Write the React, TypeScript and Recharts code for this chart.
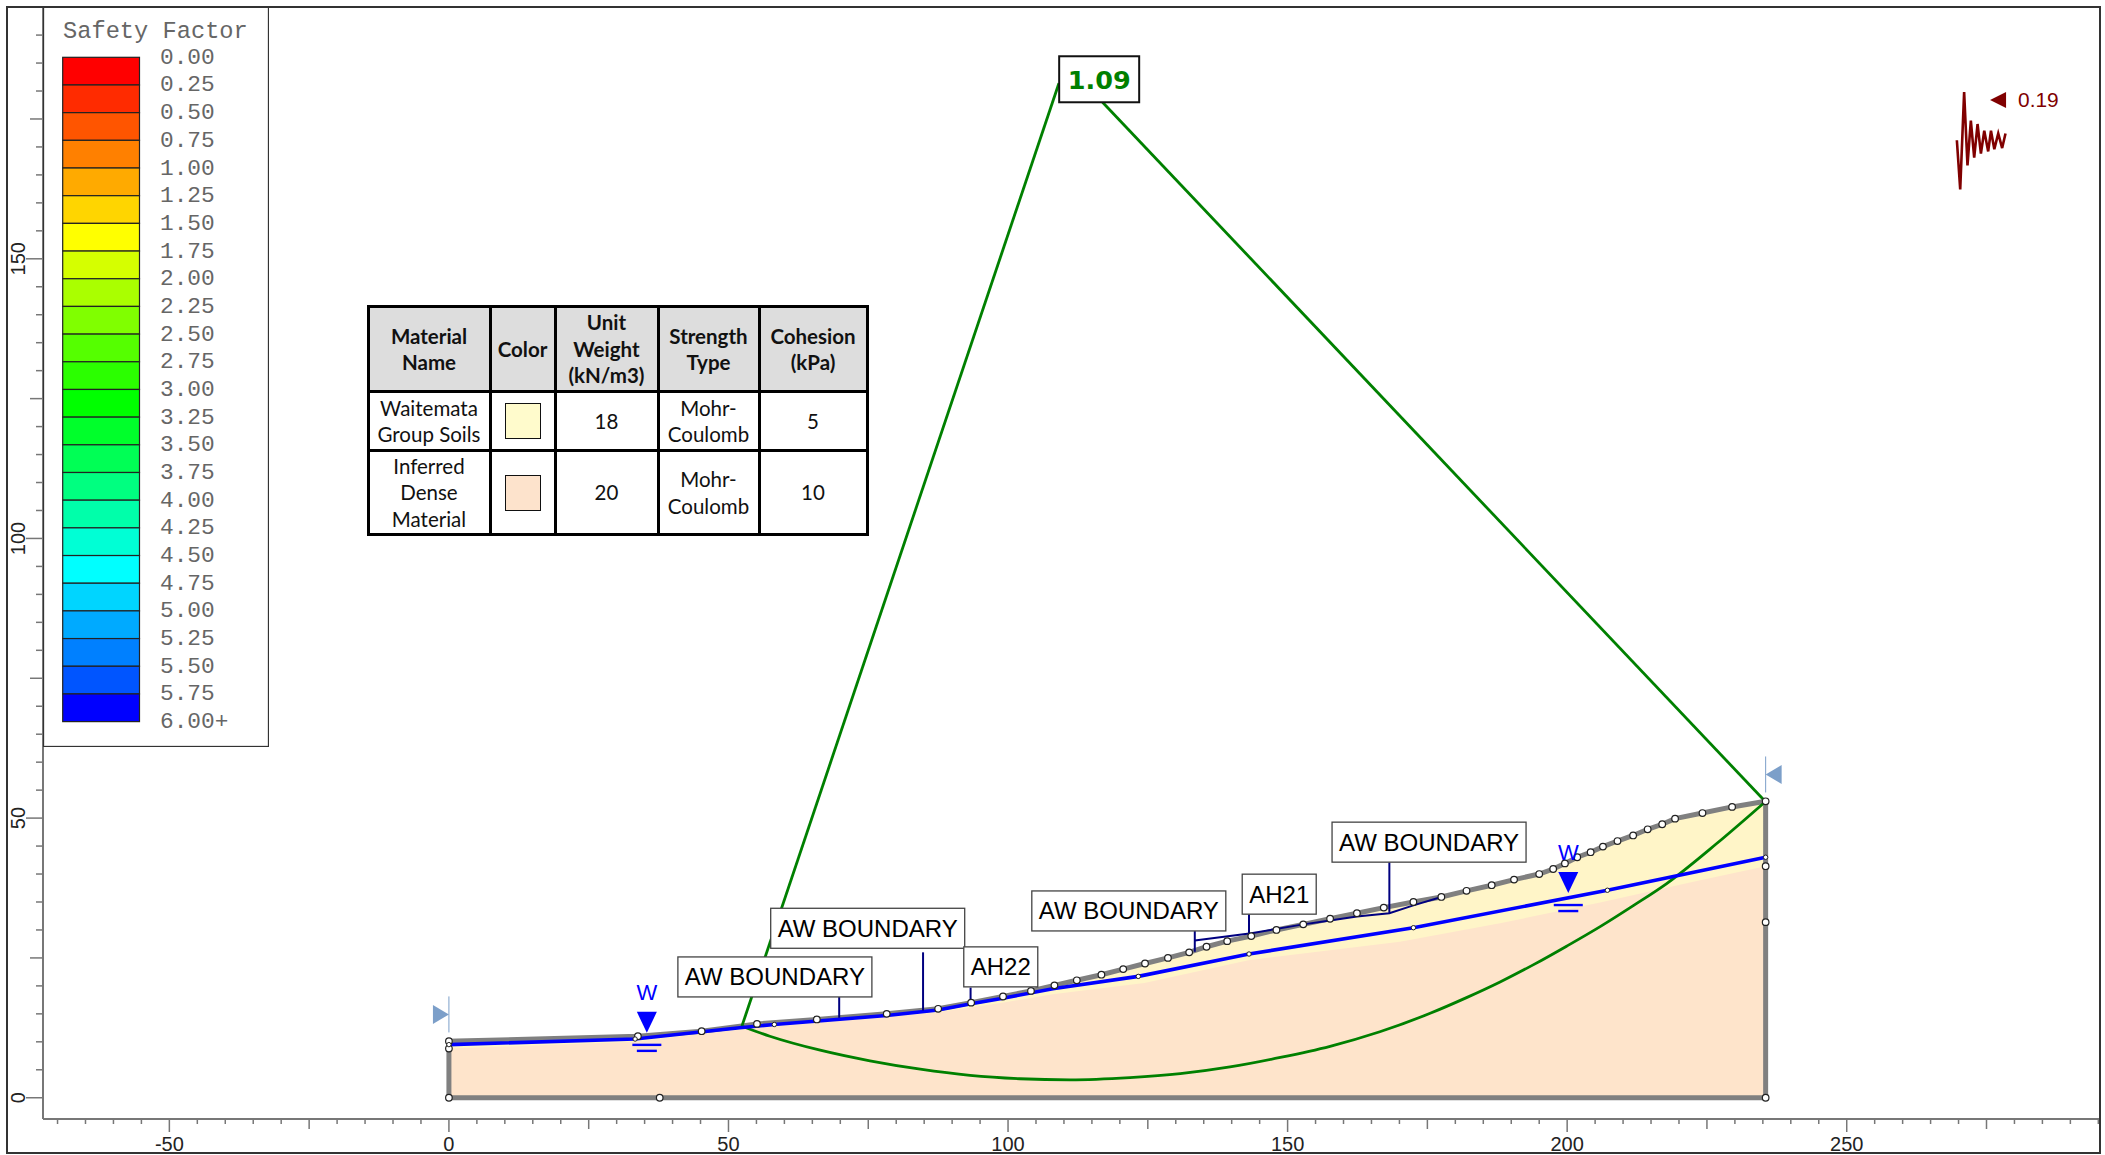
import { Area, ComposedChart, Line, ReferenceDot, XAxis, YAxis } from "recharts"

const xDomain = [-72.6, 295.3]
const yDomain = [-3.8, 195.2]

const xTicks = [
  -70, -65, -60, -55, -50, -45, -40, -35, -30, -25, -20, -15, -10, -5, 0, 5, 10, 15, 20, 25, 30, 35, 40, 45, 50, 55, 60,
  65, 70, 75, 80, 85, 90, 95, 100, 105, 110, 115, 120, 125, 130, 135, 140, 145, 150, 155, 160, 165, 170, 175, 180, 185,
  190, 195, 200, 205, 210, 215, 220, 225, 230, 235, 240, 245, 250, 255, 260, 265, 270, 275, 280, 285, 290, 295,
]
const yTicks = [
  0, 5, 10, 15, 20, 25, 30, 35, 40, 45, 50, 55, 60, 65, 70, 75, 80, 85, 90, 95, 100, 105, 110, 115, 120, 125, 130, 135,
  140, 145, 150, 155, 160, 165, 170, 175, 180, 185, 190, 195,
]

// slope surface vertices, left to right
const surfaceX = [
  0, 33.8, 45.2, 55.1, 65.8, 78.3, 87.5, 93.4, 99.1, 104.1, 108.3, 112.3, 116.7, 120.6, 124.5, 128.6, 132.4, 135.5,
  139.2, 143.5, 148, 152.8, 157.6, 162.4, 167.2, 172.5, 177.5, 182, 186.5, 190.5, 195, 197.5, 199.6, 201.8, 204.2,
  206.4, 209, 211.8, 214.4, 217, 219.3, 224.2, 229.5, 235.5,
]
const surfaceY = [
  10.1, 11, 11.9, 13.2, 14, 15, 15.9, 17, 18.1, 19.1, 20.1, 21, 22, 23, 24, 25, 26, 27, 28, 28.9, 30, 31, 32, 33, 34,
  35, 35.9, 37, 38, 39, 40, 40.9, 41.9, 43, 43.9, 44.9, 45.9, 46.9, 48, 48.9, 49.9, 50.9, 52, 53,
]

// boundary between the two materials
const interfaceX = [0, 33.3, 50, 87.5, 99, 108, 124.4, 143, 170.1, 188, 205.9, 223.8, 235.5]
const interfaceY = [8.8, 10, 12, 15.3, 17, 18.5, 20.5, 24.6, 27.9, 31.2, 34.9, 38.9, 41.4]

const waterX = [0, 33.3, 52, 58.2, 78.3, 87.5, 93.4, 99.1, 108, 123.3, 143.1, 172.5, 207.2, 235.5]
const waterY = [9.5, 10.5, 12.5, 13.1, 14.7, 15.7, 16.8, 17.8, 19.5, 21.7, 25.7, 30.4, 37.1, 43]
const waterDotX = [0, 33.3, 58.2, 123.3, 143.1, 172.5, 207.2, 235.5]
const waterDotY = [9.5, 10.5, 13.1, 21.7, 25.7, 30.4, 37.1, 43]

const extraDotX = [0, 0, 37.7, 235.5, 235.5, 235.5]
const extraDotY = [8.8, 0, 0, 41.4, 31.4, 0]

const slipX = [
  52.4, 57.4, 66.4, 75.3, 84.3, 93.2, 102.1, 111.1, 121.8, 130.8, 139.7, 148.7, 157.6, 166.5, 175.5, 182, 188, 194,
  199.9, 205.9, 211.9, 217.8, 226.8, 235.4,
]
const slipY = [
  12.8, 11, 8.5, 6.6, 5.1, 4, 3.4, 3.2, 3.6, 4.3, 5.5, 7.2, 9.2, 11.8, 15.1, 17.9, 20.7, 23.8, 27.1, 30.6, 34.4, 38.3,
  45.5, 52.9,
]
const slipLeftX = [52.4, 109.1]
const slipLeftY = [12.8, 181.4]
const slipRightX = [116.9, 235.4]
const slipRightY = [178, 53]

const awLineX = [133.4, 143.5, 152.8, 157.6, 162.4, 168.2, 172.5, 177.5]
const awLineY = [28.1, 29.4, 31, 31.7, 32.4, 33, 34.4, 35.9]

const seismicX = [269.7, 270.3, 271, 271.6, 272.2, 272.8, 273.4, 274, 274.6, 275.3, 275.8, 276.4, 277.1, 277.8, 278.4]
const seismicY = [171.2, 162.4, 179.8, 166.7, 174.7, 168.1, 174.1, 168.8, 172.9, 169.2, 172.9, 169.6, 172.4, 169.8, 172.4]

const annotationText = ["AW BOUNDARY", "AW BOUNDARY", "AH22", "AW BOUNDARY", "AH21", "AW BOUNDARY"]
const annotationX = [58.3, 74.9, 98.7, 121.6, 148.5, 175.3]
const annotationY = [21.6, 30.3, 23.4, 33.4, 36.4, 45.7]
const leaderX = [69.8, 84.8, 93.3, 133.4, 143.1, 168.2]
const leaderTop = [18, 26, 19.7, 29.8, 32.8, 42.1]
const leaderBottom = [14.3, 15.6, 16.5, 26.1, 28.5, 33]

const waterMarkerX = [35.4, 200.2]
const waterMarkerY = [11.6, 36.6]

const legendLabels = [
  "0.00", "0.25", "0.50", "0.75", "1.00", "1.25", "1.50", "1.75", "2.00", "2.25", "2.50", "2.75", "3.00", "3.25",
  "3.50", "3.75", "4.00", "4.25", "4.50", "4.75", "5.00", "5.25", "5.50", "5.75", "6.00+",
]
const legendColors = [
  "#ff0000", "#ff2b00", "#ff5500", "#ff8000", "#ffaa00", "#ffd500", "#ffff00", "#d5ff00", "#aaff00", "#80ff00",
  "#55ff00", "#2bff00", "#00ff00", "#00ff2b", "#00ff55", "#00ff80", "#00ffaa", "#00ffd5", "#00ffff", "#00d5ff",
  "#00aaff", "#0080ff", "#0055ff", "#0000ff",
]

const tableHeader = [["Material", "Name"], ["Color"], ["Unit", "Weight", "(kN/m3)"], ["Strength", "Type"], ["Cohesion", "(kPa)"]]
const tableRows = [
  { name: ["Waitemata", "Group Soils"], color: "#fffbcc", weight: "18", type: ["Mohr-", "Coulomb"], cohesion: "5" },
  { name: ["Inferred", "Dense", "Material"], color: "#fde3cc", weight: "20", type: ["Mohr-", "Coulomb"], cohesion: "10" },
]

const pts = (xs: number[], ys: number[]) => xs.map((x, i) => ({ x, y: ys[i] }))

const surface = pts(surfaceX, surfaceY)
const boundary = [{ x: 0, y: 0 }, ...surface, { x: 235.5, y: 0 }, { x: 0, y: 0 }]

const AXIS = "#777777"
const FONT = "'Liberation Sans', Arial, sans-serif"

function XTick({ x, y, payload }: any) {
  const v = payload.value
  const len = v % 50 === 0 ? 13 : v % 25 === 0 ? 10 : 5
  return (
    <g>
      <line x1={x} x2={x} y1={y} y2={y + len} stroke={AXIS} strokeWidth={1.5} />
      {v % 50 === 0 && (
        <text x={x} y={y + 32} textAnchor="middle" fontFamily={FONT} fontSize={20} fill="#222">
          {v}
        </text>
      )}
    </g>
  )
}

function YTick({ x, y, payload }: any) {
  const v = payload.value
  const len = v % 50 === 0 ? 17 : v % 25 === 0 ? 13 : 7
  return (
    <g>
      <line x1={x - len} x2={x} y1={y} y2={y} stroke={AXIS} strokeWidth={1.5} />
      {v % 50 === 0 && (
        <text
          transform={`translate(${x - 18} ${y}) rotate(-90)`}
          textAnchor="middle"
          fontFamily={FONT}
          fontSize={20}
          fill="#222"
        >
          {v}
        </text>
      )}
    </g>
  )
}

function AnnotationBox({ cx, cy, text }: any) {
  const w = text.length > 4 ? 194 : 74
  return (
    <g>
      <rect x={cx - w / 2} y={cy - 20} width={w} height={40} fill="#fff" stroke="#444" strokeWidth={1.3} />
      <text x={cx} y={cy + 8.5} textAnchor="middle" fontFamily={FONT} fontSize={24} fill="#000">
        {text}
      </text>
    </g>
  )
}

function WaterMarker({ cx, cy }: any) {
  return (
    <g>
      <text x={cx} y={cy - 33} textAnchor="middle" fontFamily={FONT} fontSize={22} fill="#0000ff">
        W
      </text>
      <path d={`M${cx - 10} ${cy - 21}L${cx + 10} ${cy - 21}L${cx} ${cy}Z`} fill="#0000ff" />
      <line x1={cx - 14.5} x2={cx + 14.5} y1={cy + 12} y2={cy + 12} stroke="#0000ff" strokeWidth={2.4} />
      <line x1={cx - 10} x2={cx + 10} y1={cy + 18} y2={cy + 18} stroke="#0000ff" strokeWidth={2.4} />
    </g>
  )
}

function SlideLimit({ cx, cy, side }: any) {
  const backX = side === "left" ? cx - 16 : cx + 16
  return (
    <g>
      <line x1={cx} x2={cx} y1={cy - 18} y2={cy + 18} stroke="#7c9fc9" strokeWidth={1} />
      <path d={`M${cx} ${cy}L${backX} ${cy - 9.5}L${backX} ${cy + 9.5}Z`} fill="#7c9fc9" />
    </g>
  )
}

function SafetyLabel({ cx, cy }: any) {
  return (
    <g>
      <rect x={cx - 40} y={cy - 23} width={80} height={46} fill="#fff" stroke="#111" strokeWidth={2} />
      <text
        x={cx}
        y={cy + 9.5}
        textAnchor="middle"
        fontFamily="'DejaVu Sans', sans-serif"
        fontWeight="bold"
        fontSize={25.5}
        fill="#008000"
      >
        1.09
      </text>
    </g>
  )
}

function SeismicLabel({ cx, cy }: any) {
  return (
    <g>
      <path d={`M${cx - 16} ${cy}L${cx} ${cy - 8}L${cx} ${cy + 8}Z`} fill="#800000" />
      <text x={cx + 12} y={cy + 7.5} fontFamily={FONT} fontSize={20.9} fill="#800000">
        0.19
      </text>
    </g>
  )
}

function LegendPanel() {
  const top = 57.3
  const cell = 27.68
  return (
    <svg style={{ position: "absolute", left: 43, top: 6 }} width={226} height={741}>
      <rect x={0.5} y={0.5} width={225} height={740} fill="#fff" stroke="#333" strokeWidth={1.3} />
      <text x={20} y={32} fontFamily="'Liberation Mono', monospace" fontSize={23.7} fill="#666">
        Safety Factor
      </text>
      {legendColors.map((c, i) => (
        <rect key={c} x={19.7} y={top - 6 + i * cell} width={76.8} height={cell} fill={c} stroke="#222" strokeWidth={1.2} />
      ))}
      {legendLabels.map((l, i) => (
        <text
          key={l}
          x={117}
          y={top - 6 + i * cell + 6.5}
          fontFamily="'Liberation Mono', monospace"
          fontSize={22.8}
          fill="#666"
        >
          {l}
        </text>
      ))}
    </svg>
  )
}

function Lines({ lines }: { lines: string[] }) {
  return (
    <>
      {lines.map((l) => (
        <div key={l}>{l}</div>
      ))}
    </>
  )
}

function MaterialTable() {
  const cell: any = { border: "3.5px solid #000", padding: 0, textAlign: "center", verticalAlign: "middle" }
  return (
    <table
      style={{
        position: "absolute",
        left: 366.5,
        top: 305,
        width: 499,
        height: 229,
        borderCollapse: "collapse",
        tableLayout: "fixed",
        fontFamily: "Lato, sans-serif",
        fontSize: 20.5,
        lineHeight: "26.5px",
        color: "#111",
        background: "#fff",
      }}
    >
      <colgroup>
        <col style={{ width: 122 }} />
        <col style={{ width: 65 }} />
        <col style={{ width: 103 }} />
        <col style={{ width: 101 }} />
        <col style={{ width: 108 }} />
      </colgroup>
      <tbody>
        <tr style={{ height: 85 }}>
          {tableHeader.map((h) => (
            <td key={h[0]} style={{ ...cell, background: "#dddddd", fontWeight: "bold" }}>
              <Lines lines={h} />
            </td>
          ))}
        </tr>
        {tableRows.map((r, i) => (
          <tr key={r.weight} style={{ height: i === 0 ? 59 : 84 }}>
            <td style={cell}>
              <Lines lines={r.name} />
            </td>
            <td style={cell}>
              <div style={{ width: 34, height: 34, margin: "0 auto", background: r.color, border: "1.5px solid #111" }} />
            </td>
            <td style={cell}>{r.weight}</td>
            <td style={cell}>
              <Lines lines={r.type} />
            </td>
            <td style={cell}>{r.cohesion}</td>
          </tr>
        ))}
      </tbody>
    </table>
  )
}

export default function App() {
  const plain = { isAnimationActive: false, dot: false as const, legendType: "none" as const, type: "linear" as const }
  return (
    <div style={{ position: "absolute", left: 0, top: 0, width: 2105, height: 1155, overflow: "hidden", background: "#fff" }}>
      <ComposedChart width={2105} height={1155} margin={{ top: 6, right: 5, bottom: 0, left: 0 }}>
        <XAxis
          type="number"
          dataKey="x"
          domain={xDomain}
          ticks={xTicks}
          interval={0}
          allowDataOverflow
          height={36}
          tickSize={0}
          tickLine={false}
          tickMargin={0}
          axisLine={{ stroke: AXIS, strokeWidth: 2 }}
          tick={<XTick />}
        />
        <YAxis
          type="number"
          domain={yDomain}
          ticks={yTicks}
          interval={0}
          allowDataOverflow
          width={43}
          tickSize={0}
          tickLine={false}
          tickMargin={0}
          axisLine={{ stroke: AXIS, strokeWidth: 2 }}
          tick={<YTick />}
        />
        <Area
          data={surface}
          dataKey="y"
          type="linear"
          baseValue={0}
          stroke="none"
          fill="#fff5c8"
          fillOpacity={1}
          isAnimationActive={false}
          dot={false}
          activeDot={false}
        />
        <Area
          data={pts(interfaceX, interfaceY)}
          dataKey="y"
          type="linear"
          baseValue={0}
          stroke="none"
          fill="#fee4cb"
          fillOpacity={1}
          isAnimationActive={false}
          dot={false}
          activeDot={false}
        />
        <Line {...plain} data={boundary} dataKey="y" stroke="#808080" strokeWidth={5} />
        <Line {...plain} data={pts(slipX, slipY)} dataKey="y" type="monotone" stroke="#008000" strokeWidth={2.8} />
        <Line {...plain} data={pts(slipLeftX, slipLeftY)} dataKey="y" stroke="#008000" strokeWidth={2.8} />
        <Line {...plain} data={pts(slipRightX, slipRightY)} dataKey="y" stroke="#008000" strokeWidth={2.8} />
        <Line {...plain} data={pts(waterX, waterY)} dataKey="y" stroke="#0000ff" strokeWidth={3.6} />
        <Line {...plain} data={pts(awLineX, awLineY)} dataKey="y" stroke="#000080" strokeWidth={2} />
        {leaderX.map((x, i) => (
          <Line
            key={i}
            {...plain}
            data={[
              { x, y: leaderTop[i] },
              { x, y: leaderBottom[i] },
            ]}
            dataKey="y"
            stroke="#000080"
            strokeWidth={2}
          />
        ))}
        <Line {...plain} data={pts(seismicX, seismicY)} dataKey="y" stroke="#800000" strokeWidth={2.6} />
        <Line
          {...plain}
          data={surface}
          dataKey="y"
          stroke="none"
          dot={{ r: 3.3, fill: "#fff", stroke: "#222", strokeWidth: 1.2 }}
        />
        <Line
          {...plain}
          data={pts(extraDotX, extraDotY)}
          dataKey="y"
          stroke="none"
          dot={{ r: 3.3, fill: "#fff", stroke: "#222", strokeWidth: 1.2 }}
        />
        <Line
          {...plain}
          data={pts(waterDotX, waterDotY)}
          dataKey="y"
          stroke="none"
          dot={{ r: 2.2, fill: "#fff", stroke: "#222", strokeWidth: 1 }}
        />
        {annotationText.map((t, i) => (
          <ReferenceDot key={i} x={annotationX[i]} y={annotationY[i]} shape={(p: any) => <AnnotationBox {...p} text={t} />} />
        ))}
        {waterMarkerX.map((x, i) => (
          <ReferenceDot key={x} x={x} y={waterMarkerY[i]} shape={(p: any) => <WaterMarker {...p} />} />
        ))}
        <ReferenceDot x={0} y={14.9} shape={(p: any) => <SlideLimit {...p} side="left" />} />
        <ReferenceDot x={235.5} y={57.8} shape={(p: any) => <SlideLimit {...p} side="right" />} />
        <ReferenceDot x={116.3} y={182.1} shape={(p: any) => <SafetyLabel {...p} />} />
        <ReferenceDot x={278.5} y={178.4} shape={(p: any) => <SeismicLabel {...p} />} />
      </ComposedChart>
      <LegendPanel />
      <MaterialTable />
      <div
        style={{
          position: "absolute",
          left: 6,
          top: 6,
          width: 2095,
          height: 1148,
          boxSizing: "border-box",
          border: "2px solid #333",
          pointerEvents: "none",
        }}
      />
    </div>
  )
}
